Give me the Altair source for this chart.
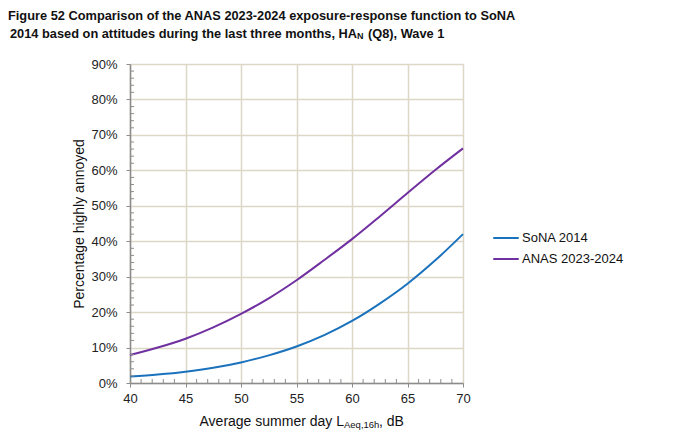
"""Figure 52: ANAS 2023-2024 vs SoNA 2014 exposure-response functions"""

import altair as alt
import pandas as pd

# Data
levels = [40, 42.5, 45, 47.5, 50, 52.5, 55, 57.5, 60, 62.5, 65, 67.5, 70]
sona_2014 = [1.8, 2.4, 3.2, 4.3, 5.8, 7.8, 10.3, 13.5, 17.5, 22.4, 28.0, 34.6, 42.0]
anas_2023 = [7.9, 10.0, 12.5, 15.7, 19.5, 23.9, 29.0, 34.7, 40.6, 47.0, 53.6, 60.1, 66.2]
series_names = ["SoNA 2014", "ANAS 2023-2024"]
series_colors = ["#1a72bd", "#7030A0"]

x_ticks = [40, 45, 50, 55, 60, 65, 70]
y_ticks = [0, 10, 20, 30, 40, 50, 60, 70, 80, 90]
x_minor = [v for v in range(40, 71) if v % 5 != 0]
y_minor = [v for v in range(0, 91, 2) if v % 10 != 0]

W, H = 333, 319
axis_grey = "#8c8c8c"
grid_col = "#ddd8c6"
font = "Liberation Sans"

df = pd.DataFrame({
    "level": levels * 2,
    "pct": sona_2014 + anas_2023,
    "series": [series_names[0]] * len(levels) + [series_names[1]] * len(levels),
})

x_scale = alt.Scale(domain=[40, 70], nice=False)
y_scale = alt.Scale(domain=[0, 90], nice=False)

# same axis spec on every layer so the merged axes keep these settings
x_axis = alt.Axis(values=x_ticks, format="d", grid=True, gridColor=grid_col,
                  gridWidth=1.5, domainColor=axis_grey, domainWidth=1.5,
                  tickColor=axis_grey, tickSize=4, labelPadding=5,
                  labelFontSize=13, labelColor="#222", labelFont=font,
                  labelFlush=False, labelOverlap=False, title=None)
y_axis = alt.Axis(values=y_ticks, labelExpr="datum.value + '%'", grid=True,
                  gridColor=grid_col, gridWidth=1.5, domainColor=axis_grey,
                  domainWidth=1.5, tickColor=axis_grey, tickSize=4,
                  labelPadding=9, labelFontSize=13, labelColor="#222",
                  labelFont=font, labelFlush=False, labelOverlap=False,
                  labelBound=False, title=None)

lines = alt.Chart(df).mark_line(strokeWidth=2, interpolate="catmull-rom").encode(
    x=alt.X("level:Q", scale=x_scale, axis=x_axis),
    y=alt.Y("pct:Q", scale=y_scale, axis=y_axis),
    color=alt.Color("series:N", sort=series_names,
                    scale=alt.Scale(domain=series_names, range=series_colors),
                    legend=alt.Legend(title=None, orient="none", legendX=362, legendY=160,
                                      symbolType="stroke", symbolSize=650,
                                      symbolStrokeWidth=2, labelFontSize=13,
                                      labelFont=font, labelColor="#111", labelOffset=2,
                                      rowPadding=-3, padding=0)),
)

# inward minor ticks
xm = alt.Chart(pd.DataFrame({"v": x_minor})).mark_rule(color=axis_grey, strokeWidth=1).encode(
    x=alt.X("v:Q", scale=x_scale, axis=x_axis), y=alt.value(H), y2=alt.value(H - 4))
ym = alt.Chart(pd.DataFrame({"v": y_minor})).mark_rule(
    color=axis_grey, strokeWidth=1).encode(
    y=alt.Y("v:Q", scale=y_scale, axis=y_axis), x=alt.value(0), x2=alt.value(4))


def txt(s, x, y, size, align="left", bold=False, angle=0, baseline="alphabetic"):
    return alt.Chart(pd.DataFrame({"t": [s]})).mark_text(
        align=align, baseline=baseline, fontSize=size, font=font, angle=angle,
        fontWeight="bold" if bold else "normal", color="#111").encode(
        text="t:N", x=alt.value(x), y=alt.value(y))


texts = [
    txt("Figure 52 Comparison of the ANAS 2023-2024 exposure-response function to SoNA",
        -122, -44.5, 12.8, bold=True),
    txt("2014 based on attitudes during the last three months, HA", 227, -26, 12.8,
        align="right", bold=True),
    txt("N", 227, -25, 9, bold=True),
    txt("(Q8), Wave 1", 238, -26, 12.8, bold=True),
    txt("Average summer day L", 214, 362, 14, align="right"),
    txt("Aeq,16h", 214, 364, 9.5),
    txt(", dB", 249, 362, 14),
    txt("Percentage highly annoyed", -50, 160, 14, align="center", angle=270,
        baseline="middle"),
]

chart = alt.layer(lines, xm, ym, *texts).properties(
    width=W, height=H,
    autosize=alt.AutoSizeParams(type="none"),
    padding={"left": 122, "top": 56, "right": 200, "bottom": 54},
).configure_view(stroke=axis_grey, strokeWidth=1.5).configure(background="white")

chart.save("out.html", embed_options={"renderer": "svg", "actions": False})
